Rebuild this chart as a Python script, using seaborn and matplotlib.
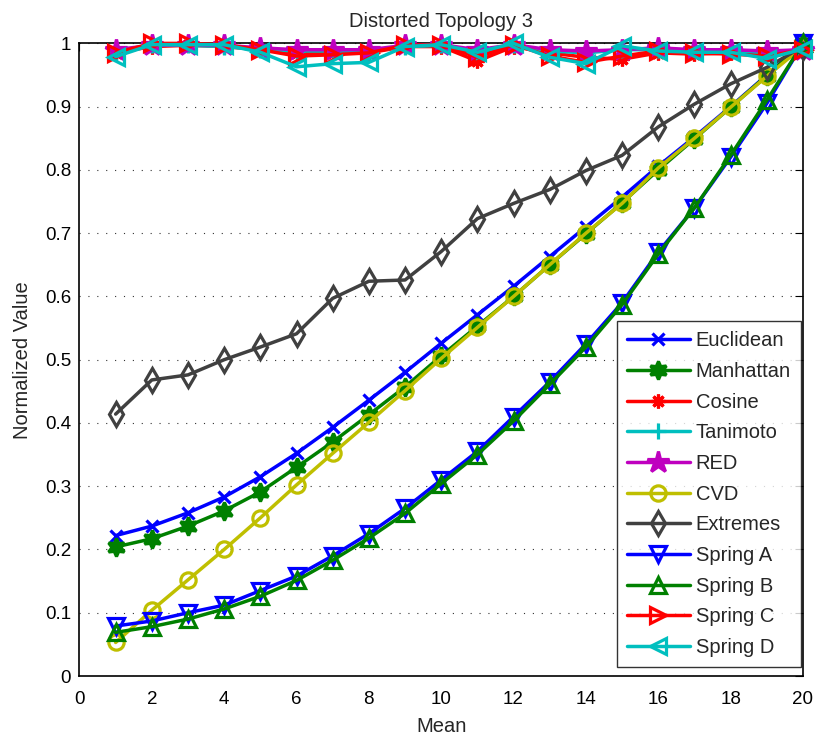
import pandas as pd
import numpy as np
import matplotlib
matplotlib.use("Agg")
import matplotlib.pyplot as plt
import seaborn as sns

# Mean values on the x axis
mean = list(range(1, 21))

euclidean = [0.222, 0.237, 0.258, 0.283, 0.315, 0.352, 0.393, 0.436, 0.480, 0.526,
             0.571, 0.616, 0.663, 0.710, 0.757, 0.806, 0.852, 0.900, 0.950, 1.000]
manhattan = [0.204, 0.217, 0.237, 0.261, 0.291, 0.330, 0.370, 0.413, 0.457, 0.506,
             0.553, 0.600, 0.650, 0.699, 0.748, 0.800, 0.849, 0.899, 0.949, 1.000]
cosine = [0.985, 0.995, 0.997, 0.995, 0.990, 0.985, 0.985, 0.985, 0.995, 0.995,
          0.972, 0.995, 0.985, 0.978, 0.975, 0.985, 0.983, 0.985, 0.983, 0.990]
tanimoto = [0.985, 0.997, 0.997, 0.995, 0.990, 0.988, 0.988, 0.988, 0.995, 0.997,
            0.985, 0.997, 0.988, 0.985, 0.990, 0.990, 0.988, 0.988, 0.985, 0.990]
red = [0.990, 0.997, 0.998, 0.997, 0.993, 0.990, 0.990, 0.990, 0.997, 0.998,
       0.990, 0.998, 0.990, 0.988, 0.990, 0.993, 0.990, 0.990, 0.988, 0.990]
cvd = [0.053, 0.104, 0.152, 0.200, 0.250, 0.302, 0.352, 0.401, 0.451, 0.502,
       0.551, 0.600, 0.650, 0.700, 0.747, 0.803, 0.850, 0.899, 0.948, 0.995]
extremes = [0.414, 0.468, 0.476, 0.500, 0.520, 0.541, 0.597, 0.624, 0.626, 0.671,
            0.723, 0.747, 0.769, 0.799, 0.823, 0.868, 0.904, 0.936, 0.962, 0.995]
spring_a = [0.079, 0.087, 0.100, 0.112, 0.135, 0.158, 0.190, 0.225, 0.265, 0.310,
            0.355, 0.410, 0.465, 0.525, 0.590, 0.670, 0.740, 0.820, 0.905, 1.000]
spring_b = [0.069, 0.078, 0.090, 0.106, 0.126, 0.151, 0.183, 0.218, 0.257, 0.304,
            0.350, 0.403, 0.461, 0.520, 0.587, 0.667, 0.740, 0.823, 0.910, 1.000]
spring_c = [0.985, 1.000, 1.000, 0.998, 0.990, 0.980, 0.982, 0.985, 0.997, 0.998,
            0.978, 0.998, 0.980, 0.970, 0.980, 0.988, 0.985, 0.983, 0.980, 0.990]
spring_d = [0.979, 0.998, 0.998, 0.998, 0.986, 0.963, 0.968, 0.970, 0.995, 0.998,
            0.986, 1.000, 0.978, 0.968, 0.996, 0.988, 0.986, 0.986, 0.976, 0.991]

names = ["Euclidean", "Manhattan", "Cosine", "Tanimoto", "RED", "CVD",
         "Extremes", "Spring A", "Spring B", "Spring C", "Spring D"]
values = [euclidean, manhattan, cosine, tanimoto, red, cvd,
          extremes, spring_a, spring_b, spring_c, spring_d]

# MATLAB-ish colours, markers, filled?, marker size
styles = {
    "Euclidean": ("#0000ff", "x", True, 9),
    "Manhattan": ("#008000", (6, 1, 0), True, 13),
    "Cosine": ("#ff0000", (8, 2, 0), True, 10),
    "Tanimoto": ("#00bfbf", "+", True, 11),
    "RED": ("#bf00bf", "*", True, 16),
    "CVD": ("#bfbf00", "o", False, 11),
    "Extremes": ("#404040", "d", False, 12),
    "Spring A": ("#0000ff", "v", False, 12),
    "Spring B": ("#008000", "^", False, 12),
    "Spring C": ("#ff0000", ">", False, 12),
    "Spring D": ("#00bfbf", "<", False, 12),
}

sns.set_theme(style="white")
plt.rcParams['font.family'] = ['Liberation Sans', 'DejaVu Sans']

fig = plt.figure(figsize=(8.16, 7.38), dpi=100)
ax = fig.add_axes([0.0974, 0.084, 0.8866, 0.8572])

for name, vals in zip(names, values):
    df = pd.DataFrame({"Mean": mean, "Value": vals})
    color, marker, filled, ms = styles[name]
    sns.lineplot(data=df, x="Mean", y="Value", ax=ax, color=color, lw=2.5,
                 marker=marker, markersize=ms, markeredgewidth=2.3,
                 markeredgecolor=color,
                 markerfacecolor=color if filled else "none",
                 label=name, zorder=3, clip_on=False)

ax.set_xlim(0, 20)
ax.set_ylim(0, 1)
ax.set_xticks(np.arange(0, 21, 2))
ax.set_yticks(np.arange(0, 1.01, 0.1))
ax.set_yticklabels(["0", "0.1", "0.2", "0.3", "0.4", "0.5", "0.6", "0.7", "0.8", "0.9", "1"])
ax.yaxis.grid(True, linestyle=(0, (1, 7)), color="#333333", lw=0.8)
ax.xaxis.grid(False)
ax.tick_params(direction="in", top=True, right=True, length=6, width=0.8,
               labelsize=13.5, colors="black")
ax.tick_params(axis="x", pad=11)
ax.tick_params(axis="y", pad=6)
for sp in ax.spines.values():
    sp.set_color("black")
    sp.set_linewidth(1.2)
    sp.set_zorder(2)

ax.set_title("Distorted Topology 3", fontsize=14.5, pad=12)
ax.set_xlabel("Mean", fontsize=14.5, labelpad=6)
ax.set_ylabel("Normalized Value", fontsize=14.5, labelpad=9)

leg = ax.legend(loc="lower right", bbox_to_anchor=(0.997, 0.014), fontsize=14.5,
                frameon=True, fancybox=False, edgecolor="black", handlelength=3.1,
                handletextpad=0.3, labelspacing=0.58, borderpad=0.5,
                borderaxespad=0.0)
leg.get_frame().set_linewidth(1.0)
leg.set_zorder(5)

fig.savefig("out.png", dpi=100)
